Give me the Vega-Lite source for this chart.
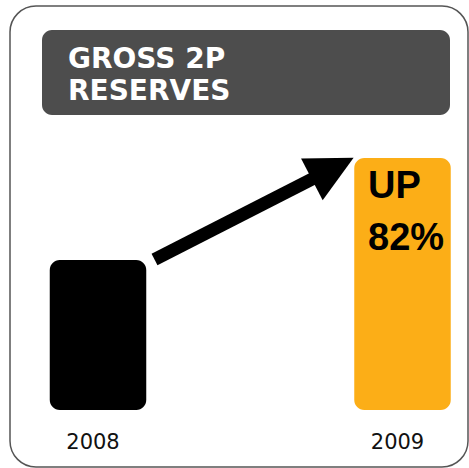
{
  "$schema": "https://vega.github.io/schema/vega-lite/v6.json",
  "width": 458,
  "height": 461,
  "autosize": {"type": "none"},
  "padding": {"left": 10, "top": 6, "right": 1, "bottom": 1},
  "background": "#ffffff",
  "config": {
    "view": {"stroke": "#555555", "strokeWidth": 1.5, "cornerRadius": 26, "fill": "#ffffff"}
  },
  "data": {"values": [
    {"year": 2008, "value": 100, "label": "2008"},
    {"year": 2009, "value": 168, "label": "2009"}
  ]},
  "layer": [
    {
      "data": {"values": [{"title": "GROSS 2P RESERVES"}]},
      "mark": {"type": "rect", "color": "#4d4d4d", "cornerRadius": 10},
      "encoding": {
        "x": {"datum": 2007.8161, "type": "quantitative", "scale": {"domain": [2008, 2009], "range": [88, 392.5], "zero": false, "nice": false, "padding": 0}, "axis": null},
        "x2": {"datum": 2009.156},
        "y": {"datum": 253.33, "type": "quantitative", "scale": {"domain": [0, 100], "range": [404, 254], "zero": false, "nice": false, "padding": 0}, "axis": null},
        "y2": {"datum": 196.67}
      }
    },
    {
      "data": {"values": [{"title": "GROSS 2P RESERVES"}]},
      "mark": {"type": "text", "text": ["GROSS 2P", "RESERVES"], "font": "DejaVu Sans", "fontWeight": "bold", "fontSize": 28, "color": "#ffffff", "align": "left", "baseline": "alphabetic", "lineHeight": 32},
      "encoding": {
        "x": {"datum": 2007.9015, "type": "quantitative"},
        "y": {"datum": 228, "type": "quantitative"}
      }
    },
    {
      "mark": {"type": "bar", "width": 96.5, "cornerRadius": 10},
      "encoding": {
        "x": {"field": "year", "type": "quantitative"},
        "y": {"field": "value", "type": "quantitative"},
        "y2": {"datum": 0},
        "color": {"field": "label", "type": "nominal", "scale": {"domain": ["2008", "2009"], "range": ["#000000", "#fcae17"]}, "legend": null}
      }
    },
    {
      "mark": {"type": "text", "font": "DejaVu Sans", "fontSize": 21, "color": "#111111", "align": "center", "baseline": "alphabetic", "dx": -5},
      "encoding": {
        "x": {"field": "year", "type": "quantitative"},
        "y": {"datum": -26, "type": "quantitative"},
        "text": {"field": "label"}
      }
    },
    {
      "data": {"values": [{"note": "UP 82%"}]},
      "mark": {"type": "text", "text": ["UP", "82%"], "font": "Liberation Sans", "fontWeight": "bold", "fontSize": 38, "color": "#000000", "align": "left", "baseline": "alphabetic", "lineHeight": 52, "dx": -34.5, "dy": 40},
      "encoding": {
        "x": {"datum": 2009, "type": "quantitative"},
        "y": {"datum": 168, "type": "quantitative"}
      }
    },
    {
      "data": {"values": [{"note": "arrow"}]},
      "mark": {"type": "rule", "color": "#000000", "strokeWidth": 13, "strokeCap": "butt"},
      "encoding": {
        "x": {"datum": 2008.1856, "type": "quantitative"},
        "y": {"datum": 100.33, "type": "quantitative"},
        "x2": {"datum": 2008.7356},
        "y2": {"datum": 157.33}
      }
    },
    {
      "data": {"values": [{"note": "arrowhead"}]},
      "mark": {"type": "point", "shape": "M1,0L-1,-1L-1,1Z", "size": 2209, "angle": -27.4, "filled": true, "color": "#000000", "opacity": 1, "strokeWidth": 0},
      "encoding": {
        "x": {"datum": 2008.7709, "type": "quantitative"},
        "y": {"datum": 161.0, "type": "quantitative"}
      }
    }
  ]
}
